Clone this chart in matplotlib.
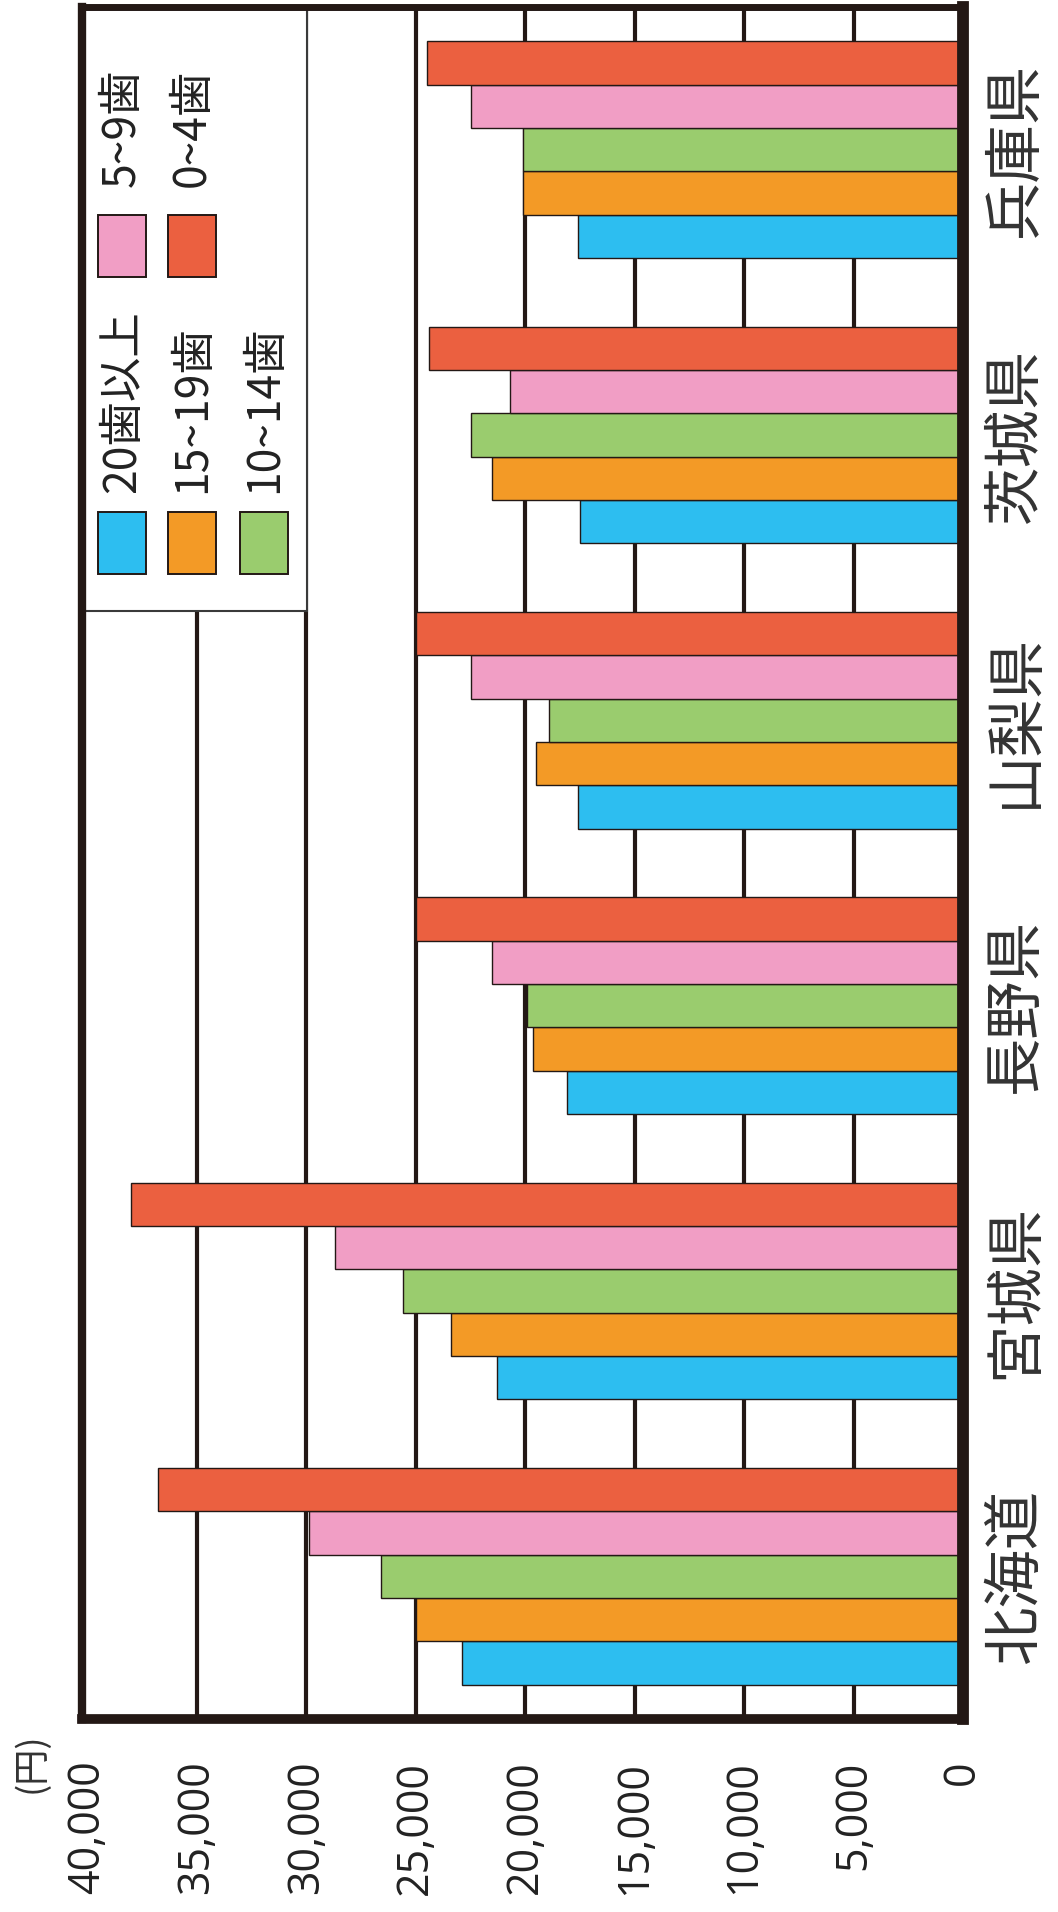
import matplotlib
matplotlib.use("Agg")
import matplotlib.pyplot as plt
from matplotlib.patches import Rectangle
import numpy as np

plt.rcParams['font.family'] = ['Noto Sans CJK JP', 'DejaVu Sans']

# 都道府県別・年齢階級別の金額（円）
prefectures = ['北海道', '宮城県', '長野県', '山梨県', '茨城県', '兵庫県']
age_groups = ['20歯以上', '15~19歯', '10~14歯', '5~9歯', '0~4歯']
colors = ['#2DBEF0', '#F39A26', '#9ACC6E', '#F19EC5', '#EB6040']

age_20plus = [22900, 21300, 18100, 17600, 17500, 17600]
age_15_19 = [25000, 23400, 19650, 19500, 21500, 20100]
age_10_14 = [26600, 25600, 19900, 18900, 22500, 20100]
age_5_9 = [29900, 28700, 21500, 22500, 20700, 22500]
age_0_4 = [36800, 38000, 25000, 25000, 24400, 24500]
series = [age_20plus, age_15_19, age_10_14, age_5_9, age_0_4]

x_ticks = np.arange(0, 40001, 5000)
x_ticklabels = ['0' if v == 0 else f'{v:,}' for v in x_ticks]

ink = '#231815'

W, H = 1058, 1912
ax_l, ax_r, ax_t, ax_b = 82, 963, 7, 1719

fig = plt.figure(figsize=(W / 100, H / 100), dpi=100)
ax = fig.add_axes([ax_l / W, (H - ax_b) / H, (ax_r - ax_l) / W, (ax_b - ax_t) / H])

# グループ化した横棒（図全体を90度回転させた縦棒グラフとして描く）
y = np.arange(len(prefectures))
bar_h = 0.152
for k, (vals, c) in enumerate(zip(series, colors)):
    ax.barh(y + (k - 2) * bar_h, vals, height=bar_h, color=c,
            edgecolor=ink, linewidth=1.0, zorder=2)

ax.set_xlim(40250, 0)
ax.set_ylim(-0.5, len(prefectures) - 0.5)

ax.set_xticks(x_ticks)
ax.set_xticklabels(x_ticklabels, rotation=90, fontsize=31,
                   family=['Open Sans', 'DejaVu Sans'], color='#222222')
ax.set_yticks(y)
ax.set_yticklabels(prefectures, rotation=90, fontsize=42, color='#333333',
                   va='center')
ax.yaxis.tick_right()
ax.tick_params(axis='x', length=0, pad=30)
ax.tick_params(axis='y', length=0, pad=16)

# 目盛り線（40,000 は左枠と重なるので描かない）
for v in x_ticks[1:-1]:
    ax.axvline(v, color=ink, linewidth=3.0, zorder=1)

for side, lw in [('left', 6), ('top', 5), ('bottom', 7), ('right', 8.5)]:
    ax.spines[side].set_color(ink)
    ax.spines[side].set_linewidth(lw)
    ax.spines[side].set_zorder(5)


# 凡例（回転した向きに合わせて手で配置）
def fx(px):
    return (px - ax_l) / (ax_r - ax_l)


def fy(py):
    return (ax_b - py) / (ax_b - ax_t)


ax.add_patch(Rectangle((fx(ax_l), fy(611)), fx(307) - fx(ax_l),
                       fy(ax_t) - fy(611), transform=ax.transAxes,
                       facecolor='white', edgecolor='#3a3a3a', linewidth=1.5,
                       zorder=3, clip_on=False))

# (左端x, 上端y, 文字の下端y)
legend_slots = [
    (98, 512, 493),   # 20歯以上
    (168, 512, 493),  # 15~19歯
    (240, 512, 493),  # 10~14歯
    (98, 215, 187),   # 5~9歯
    (168, 215, 187),  # 0~4歯
]
sw, sh = 48, 62
for (px, py, ty), c, label in zip(legend_slots, colors, age_groups):
    ax.add_patch(Rectangle((fx(px), fy(py + sh)), fx(px + sw) - fx(px),
                           fy(py) - fy(py + sh), transform=ax.transAxes,
                           facecolor=c, edgecolor=ink, linewidth=1.4,
                           zorder=4, clip_on=False))
    ax.text(fx(px + sw / 2), fy(ty), label, transform=ax.transAxes,
            rotation=90, ha='center', va='bottom', fontsize=32,
            color='#222222', zorder=4)

fig.text(31 / W, 1 - 1763 / H, '(円)', rotation=90, ha='center',
         va='center', fontsize=26, color='#333333')

fig.savefig('out.png', dpi=100, facecolor='white')
